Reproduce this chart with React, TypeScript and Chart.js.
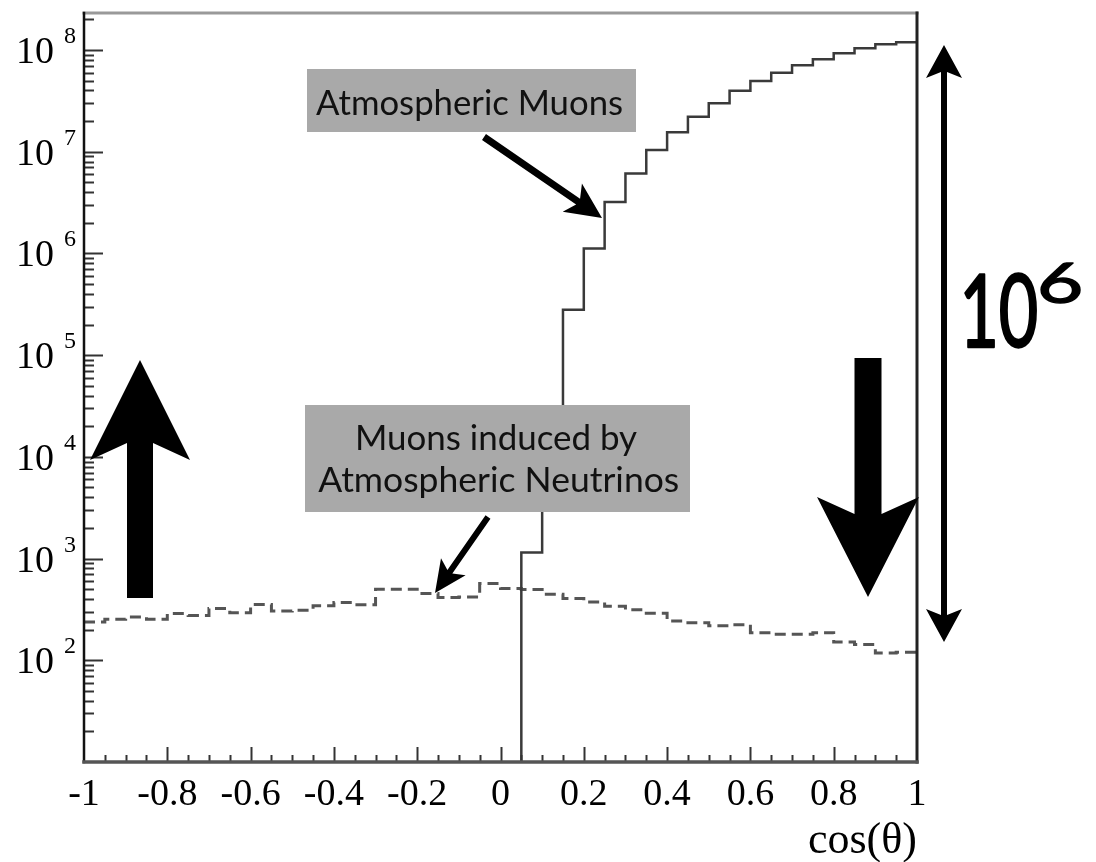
import React, { useEffect, useRef } from "react";
import { Chart, registerables } from "chart.js";

Chart.register(...registerables);

// Lower edges of the 40 cos(θ) bins (bin width 0.05); the last bin closes at +1.
const binLowEdges = [
  -1, -0.95, -0.9, -0.85, -0.8, -0.75, -0.7, -0.65, -0.6, -0.55,
  -0.5, -0.45, -0.4, -0.35, -0.3, -0.25, -0.2, -0.15, -0.1, -0.05,
  0, 0.05, 0.1, 0.15, 0.2, 0.25, 0.3, 0.35, 0.4, 0.45,
  0.5, 0.55, 0.6, 0.65, 0.7, 0.75, 0.8, 0.85, 0.9, 0.95,
];
const binHighEdge = 1;

// Downgoing atmospheric muons per bin (empty bins below cos θ = 0.05).
const atmosphericMuons = [
  0, 0, 0, 0, 0, 0, 0, 0, 0, 0,
  0, 0, 0, 0, 0, 0, 0, 0, 0, 0,
  0, 1150, 25000, 280000, 1120000, 3200000, 6100000, 10400000, 15500000, 22100000,
  29900000, 39800000, 49600000, 59800000, 70700000, 81000000, 92700000, 104000000, 114000000, 119000000,
];

// Muons induced by atmospheric neutrinos per bin.
const neutrinoInducedMuons = [
  238, 253, 267, 253, 288, 276, 323, 294, 353, 305,
  310, 343, 370, 351, 500, 500, 453, 414, 418, 568,
  507, 496, 446, 404, 375, 340, 314, 290, 244, 234,
  219, 224, 187, 180, 180, 187, 151, 143, 118, 120,
];

const xTickValues = [-1, -0.8, -0.6, -0.4, -0.2, 0, 0.2, 0.4, 0.6, 0.8, 1];
const xTickLabels = ["-1", "-0.8", "-0.6", "-0.4", "-0.2", "0", "0.2", "0.4", "0.6", "0.8", "1"];
const yTickExponents = [2, 3, 4, 5, 6, 7, 8];

const yMin = 10;
const yMax = 2.31e8;
const emptyBinLevel = 1; // below the visible range, so empty bins drop to the floor

const SERIF = "'Liberation Serif', 'Times New Roman', serif";
const SANS = "Lato, 'Open Sans', sans-serif";

function stepPoints(counts: number[]) {
  const pts = counts.map((c, i) => ({ x: binLowEdges[i], y: c > 0 ? c : emptyBinLevel }));
  pts.push({ x: binHighEdge, y: pts[pts.length - 1].y });
  return pts;
}

function arrow(
  ctx: CanvasRenderingContext2D,
  x1: number, y1: number, x2: number, y2: number,
  shaftW: number, headLen: number, headHalfW: number, notch: number
) {
  const dx = x2 - x1, dy = y2 - y1;
  const L = Math.hypot(dx, dy);
  const ux = dx / L, uy = dy / L, vx = -uy, vy = ux;
  const p = (u: number, v: number): [number, number] => [x1 + ux * u + vx * v, y1 + uy * u + vy * v];
  const pts = [
    p(0, shaftW / 2), p(L - headLen + notch, shaftW / 2), p(L - headLen, headHalfW), p(L, 0),
    p(L - headLen, -headHalfW), p(L - headLen + notch, -shaftW / 2), p(0, -shaftW / 2),
  ];
  ctx.beginPath();
  pts.forEach(([x, y], i) => (i ? ctx.lineTo(x, y) : ctx.moveTo(x, y)));
  ctx.closePath();
  ctx.fill();
}

// Text at a uniform size chosen so that its inked width equals targetW, centred on cx.
function fitText(ctx: CanvasRenderingContext2D, text: string, cx: number, baseline: number, targetW: number) {
  ctx.textAlign = "left";
  ctx.textBaseline = "alphabetic";
  ctx.font = `100px ${SANS}`;
  const m = ctx.measureText(text);
  const ink = m.actualBoundingBoxLeft + m.actualBoundingBoxRight;
  const size = (100 * targetW) / ink;
  ctx.font = `${size}px ${SANS}`;
  const m2 = ctx.measureText(text);
  const w2 = m2.actualBoundingBoxLeft + m2.actualBoundingBoxRight;
  ctx.fillText(text, cx - w2 / 2 + m2.actualBoundingBoxLeft, baseline);
}

// Text stretched so that its ink fills the given box, with slightly heavier strokes.
function boxText(ctx: CanvasRenderingContext2D, text: string, left: number, top: number, right: number, bottom: number) {
  ctx.font = `100px ${SANS}`;
  ctx.textAlign = "left";
  ctx.textBaseline = "alphabetic";
  const m = ctx.measureText(text);
  const inkW = m.actualBoundingBoxLeft + m.actualBoundingBoxRight;
  const inkH = m.actualBoundingBoxAscent + m.actualBoundingBoxDescent;
  const pad = 1.2;
  ctx.save();
  ctx.translate(left, top);
  ctx.scale((right - left) / (inkW + 2 * pad), (bottom - top) / (inkH + 2 * pad));
  ctx.lineWidth = 2 * pad;
  ctx.lineJoin = "round";
  ctx.fillText(text, m.actualBoundingBoxLeft + pad, m.actualBoundingBoxAscent + pad);
  ctx.strokeText(text, m.actualBoundingBoxLeft + pad, m.actualBoundingBoxAscent + pad);
  ctx.restore();
}

const framePlugin = {
  id: "rootFrame",
  afterDraw(chart: any) {
    const { ctx, chartArea: a } = chart;
    const xs = chart.scales.x;
    const ys = chart.scales.y;
    ctx.save();

    // inward tick marks on the y axis (decades long, 2..9 short)
    ctx.strokeStyle = "#333";
    ctx.lineWidth = 2;
    for (let e = 0; e <= 9; e++) {
      for (let m = 1; m <= 9; m++) {
        const v = m * Math.pow(10, e);
        if (v <= ys.min || v > ys.max) continue;
        const py = Math.round(ys.getPixelForValue(v)) + 0.5;
        const len = m === 1 ? 19 : 10;
        ctx.beginPath();
        ctx.moveTo(a.left, py);
        ctx.lineTo(a.left + len, py);
        ctx.stroke();
      }
    }
    // inward tick marks on the x axis (0.2 long, 0.05 short)
    for (let i = 1; i < 40; i++) {
      const v = -1 + i * 0.05;
      const px = Math.round(xs.getPixelForValue(v)) + 0.5;
      const len = i % 4 === 0 ? 15 : 7;
      ctx.beginPath();
      ctx.moveTo(px, a.bottom);
      ctx.lineTo(px, a.bottom - len);
      ctx.stroke();
    }

    // frame
    ctx.lineCap = "square";
    ctx.strokeStyle = "#999";
    ctx.lineWidth = 3;
    ctx.beginPath();
    ctx.moveTo(a.left, a.top);
    ctx.lineTo(a.right, a.top);
    ctx.stroke();
    ctx.strokeStyle = "#222";
    ctx.lineWidth = 3;
    ctx.beginPath();
    ctx.moveTo(a.right, a.top);
    ctx.lineTo(a.right, a.bottom);
    ctx.stroke();
    ctx.strokeStyle = "#111";
    ctx.lineWidth = 2.5;
    ctx.beginPath();
    ctx.moveTo(a.left, a.top);
    ctx.lineTo(a.left, a.bottom);
    ctx.stroke();
    ctx.strokeStyle = "#555";
    ctx.lineWidth = 3.5;
    ctx.beginPath();
    ctx.moveTo(a.left, a.bottom);
    ctx.lineTo(a.right, a.bottom);
    ctx.stroke();

    // tick labels
    ctx.fillStyle = "#000";
    ctx.textBaseline = "alphabetic";
    ctx.font = `38px ${SERIF}`;
    ctx.textAlign = "center";
    xTickValues.forEach((v, i) => {
      ctx.fillText(xTickLabels[i], xs.getPixelForValue(v), a.bottom + 43);
    });
    yTickExponents.forEach((e) => {
      const py = ys.getPixelForValue(Math.pow(10, e));
      ctx.font = `38px ${SERIF}`;
      ctx.textAlign = "right";
      ctx.fillText("10", 54, py + 13);
      ctx.font = `24px ${SERIF}`;
      ctx.textAlign = "left";
      ctx.fillText(String(e), 64, py - 7);
    });
    ctx.font = `44px ${SERIF}`;
    ctx.textAlign = "right";
    ctx.fillText("cos(θ)", a.right, 853);

    // labelled call-outs
    ctx.fillStyle = "#a9a9a9";
    ctx.fillRect(307, 69, 329, 63);
    ctx.fillRect(305, 405, 385, 107);
    ctx.fillStyle = "#111";
    fitText(ctx, "Atmospheric Muons", 469, 115, 306);
    fitText(ctx, "Muons induced by", 497.5, 450, 279);
    fitText(ctx, "Atmospheric Neutrinos", 498, 492, 360);

    ctx.fillStyle = "#000";
    ctx.strokeStyle = "#000";
    arrow(ctx, 484, 137, 602, 218, 7, 36, 17, 7);
    arrow(ctx, 488, 517, 435, 593, 6, 32, 15, 6);

    // direction arrows
    arrow(ctx, 140, 598, 140, 360, 26, 100, 50, 17);
    arrow(ctx, 868, 358, 868, 597, 27, 100, 51, 17);

    // span of six decades
    arrow(ctx, 944, 344, 944, 45, 6, 33, 18, 6);
    arrow(ctx, 944, 343, 944, 642, 6, 33, 18, 6);
    boxText(ctx, "10", 964, 271, 1037, 349);
    boxText(ctx, "6", 1040, 261, 1081, 304);

    ctx.restore();
  },
};

export default function App() {
  const canvasRef = useRef<HTMLCanvasElement | null>(null);

  useEffect(() => {
    const canvas = canvasRef.current;
    if (!canvas) return;
    const chart = new Chart(canvas, {
      type: "line",
      data: {
        datasets: [
          {
            label: "Atmospheric Muons",
            data: stepPoints(atmosphericMuons),
            stepped: "before",
            borderColor: "#3a3a3a",
            borderWidth: 2.5,
            pointRadius: 0,
            fill: false,
          },
          {
            label: "Muons induced by Atmospheric Neutrinos",
            data: stepPoints(neutrinoInducedMuons),
            stepped: "before",
            borderColor: "#555",
            borderWidth: 3,
            borderDash: [11, 6],
            pointRadius: 0,
            fill: false,
          },
        ],
      },
      options: {
        responsive: false,
        animation: false,
        events: [],
        layout: { padding: { left: 84, right: 179, top: 13, bottom: 100 } },
        plugins: { legend: { display: false }, tooltip: { enabled: false } },
        scales: {
          x: { type: "linear", min: -1, max: 1, display: false },
          y: { type: "logarithmic", min: yMin, max: yMax, display: false },
        },
      },
      plugins: [framePlugin],
    } as any);
    return () => chart.destroy();
  }, []);

  return (
    <div style={{ position: "absolute", left: 0, top: 0, width: 1096, height: 862, background: "#fff" }}>
      <canvas ref={canvasRef} width={1096} height={862} style={{ display: "block" }} />
    </div>
  );
}
